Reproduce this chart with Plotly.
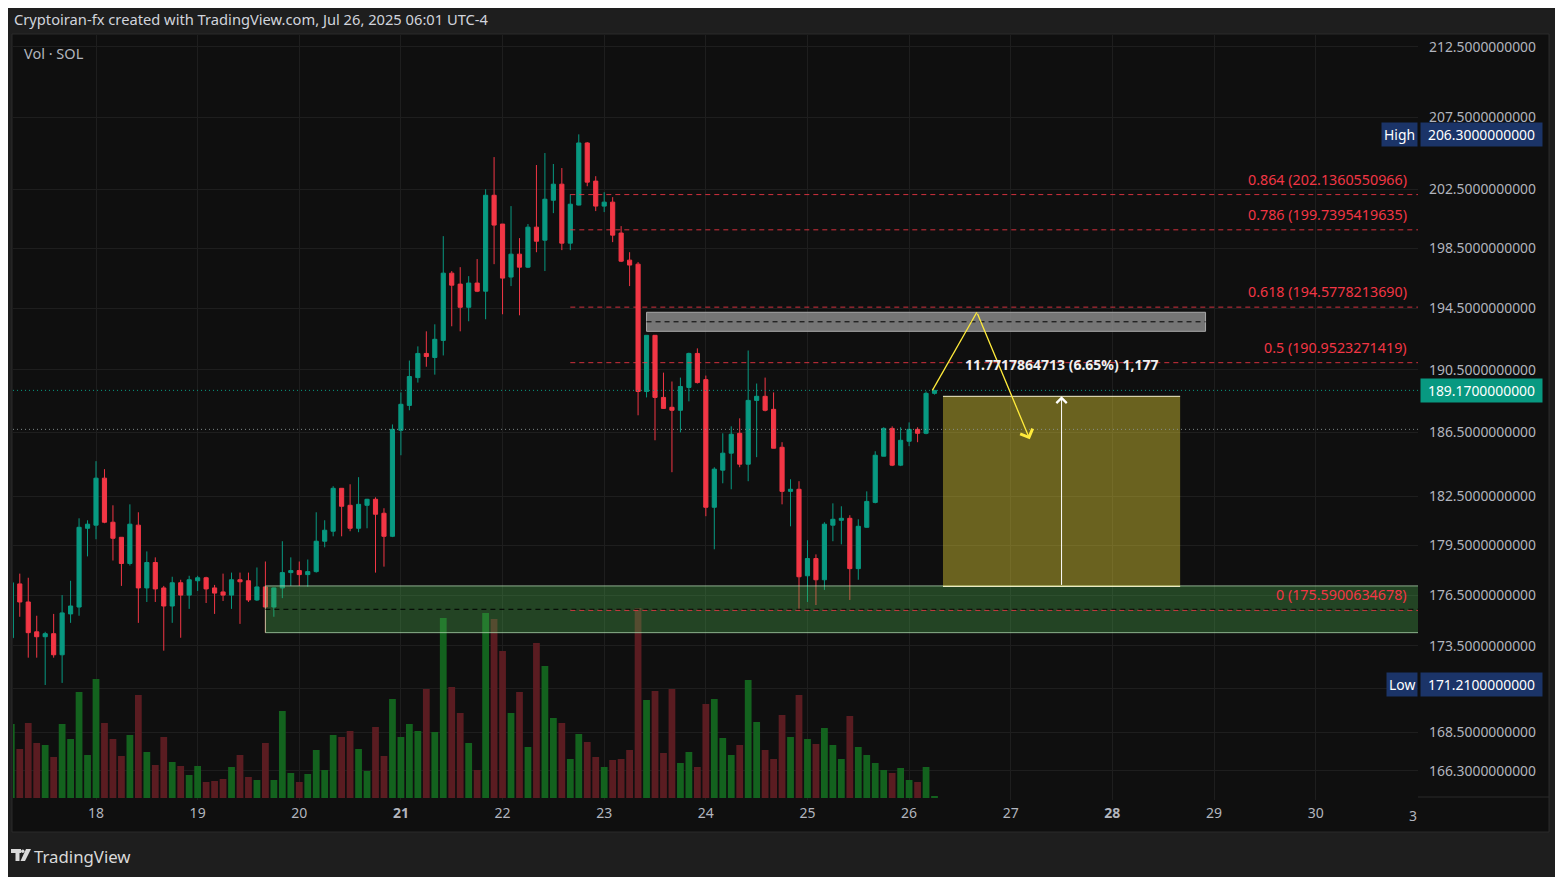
import math
import pandas as pd
import plotly.graph_objects as go

# 2h candles, SOL, Jul 17 04:00 -> Jul 26 06:00 (UTC-4)
start_time = "2025-07-17 04:00"

opens = [173.97, 177.17, 176.09, 174.32, 174.03, 174.21, 172.97, 175.38, 175.79, 180.54,
         180.73, 183.63, 180.91, 179.99, 178.40, 180.73, 176.93, 178.46, 176.93, 175.85,
         177.24, 176.50, 177.36, 177.54, 176.93, 176.69, 176.50, 177.42, 177.36, 176.21,
         176.99, 175.79, 176.93, 177.85, 177.97, 177.73, 177.91, 179.75, 180.36, 183.00,
         181.95, 180.54, 181.95, 182.32, 181.46, 180.05, 186.63, 188.21, 189.99, 191.55,
         191.29, 192.40, 196.83, 196.10, 194.57, 196.17, 195.63, 202.09, 200.13, 196.57,
         198.10, 197.23, 199.92, 199.04, 201.75, 202.85, 198.84, 201.42, 205.70, 203.06,
         201.35, 201.62, 199.52, 197.70, 197.43, 189.10, 192.73, 188.72, 188.09, 187.90,
         189.36, 191.55, 189.86, 181.83, 184.13, 185.19, 186.44, 184.50, 188.53, 188.79,
         187.96, 185.56, 182.81, 182.94, 177.66, 178.70, 177.42, 180.73, 181.03, 181.15,
         178.09, 180.60, 182.13, 185.00, 186.75, 184.44, 185.94, 186.69, 186.44, 188.98]
highs = [177.40, 177.79, 177.54, 175.27, 174.32, 175.38, 176.50, 177.36, 181.15, 181.03,
         184.69, 184.19, 181.95, 180.00, 182.01, 181.52, 179.13, 178.77, 177.05, 177.60,
         177.42, 177.66, 177.66, 177.60, 177.11, 177.79, 177.85, 177.85, 177.85, 178.16,
         178.52, 176.95, 179.75, 178.77, 178.52, 178.64, 181.52, 181.03, 183.13, 183.00,
         183.25, 183.69, 182.35, 182.44, 181.77, 187.00, 189.04, 191.09, 192.01, 192.99,
         193.45, 199.31, 196.97, 197.23, 196.63, 197.77, 202.50, 204.72, 200.13, 201.35,
         199.18, 200.13, 204.17, 205.00, 204.24, 203.96, 202.16, 206.30, 205.76, 203.40,
         202.30, 201.96, 199.99, 198.23, 197.57, 192.73, 192.73, 190.31, 189.74, 189.99,
         191.60, 191.88, 190.12, 184.31, 186.44, 186.88, 187.39, 191.74, 189.61, 189.99,
         189.04, 185.88, 183.56, 183.44, 179.81, 178.95, 180.91, 182.07, 181.89, 181.34,
         181.09, 182.81, 185.31, 186.82, 186.88, 186.82, 187.13, 186.82, 189.10, 189.20]
lows = [173.56, 175.21, 172.80, 172.80, 171.21, 172.80, 171.33, 174.85, 175.27, 178.83,
        179.87, 180.85, 178.58, 177.05, 178.28, 174.85, 176.09, 176.09, 173.21, 174.85,
        173.97, 175.68, 176.75, 176.03, 175.38, 176.15, 175.68, 174.79, 176.09, 176.15,
        174.27, 175.21, 176.32, 177.05, 177.05, 176.99, 177.85, 179.38, 180.05, 180.05,
        180.36, 180.30, 180.54, 177.85, 178.21, 180.00, 185.06, 187.90, 189.67, 190.69,
        190.18, 191.42, 193.32, 192.99, 193.65, 195.57, 193.78, 197.43, 194.11, 195.97,
        194.04, 197.17, 198.23, 196.97, 200.87, 198.37, 198.37, 201.40, 202.71, 201.01,
        200.94, 198.91, 197.57, 195.97, 187.58, 188.72, 186.00, 188.00, 184.00, 186.50,
        188.47, 189.61, 181.28, 179.26, 183.31, 182.94, 184.31, 183.44, 184.94, 187.83,
        185.50, 182.01, 180.66, 175.59, 176.09, 175.91, 176.81, 179.75, 179.56, 176.21,
        177.42, 180.58, 182.07, 185.00, 184.38, 184.38, 185.63, 185.88, 186.38, 188.90]
closes = [177.24, 176.09, 174.27, 174.03, 174.21, 172.97, 175.44, 175.85, 180.60, 180.79,
          183.63, 180.91, 179.93, 178.40, 180.79, 176.93, 178.46, 176.87, 175.85, 177.24,
          176.50, 177.42, 177.54, 176.87, 176.62, 176.50, 177.42, 177.30, 176.21, 176.99,
          175.79, 176.93, 177.85, 177.97, 177.73, 177.91, 179.75, 180.42, 183.00, 181.89,
          180.54, 182.01, 182.32, 181.40, 180.05, 186.69, 188.28, 190.06, 191.55, 191.35,
          192.47, 196.83, 196.03, 194.57, 196.17, 195.63, 202.09, 200.06, 196.50, 198.10,
          197.23, 199.92, 198.97, 201.82, 202.85, 198.84, 201.48, 205.70, 202.99, 201.35,
          201.62, 199.38, 197.63, 197.37, 189.10, 192.73, 188.72, 188.02, 187.90, 189.42,
          191.55, 189.67, 181.83, 184.19, 185.19, 186.38, 184.50, 188.53, 188.79, 187.90,
          185.50, 182.81, 182.94, 177.60, 178.70, 177.42, 180.79, 181.09, 181.15, 178.09,
          180.66, 182.19, 185.06, 186.75, 184.44, 186.00, 186.69, 186.44, 188.98, 189.17]
# relative volume (no scale shown on the chart)
volumes = [74, 49, 75, 55, 53, 41, 74, 59, 106, 43,
           119, 75, 59, 42, 63, 103, 46, 33, 61, 36,
           32, 23, 32, 16, 17, 19, 31, 43, 21, 18,
           55, 18, 87, 25, 16, 24, 48, 28, 63, 61,
           67, 49, 27, 71, 42, 99, 61, 74, 67, 109,
           66, 180, 111, 85, 55, 28, 185, 179, 147, 85,
           106, 51, 155, 132, 80, 75, 39, 64, 56, 41,
           31, 38, 39, 48, 190, 98, 107, 45, 109, 35,
           46, 31, 94, 99, 60, 43, 53, 118, 76, 48,
           39, 83, 61, 103, 59, 54, 70, 53, 39, 82,
           51, 43, 35, 28, 25, 30, 18, 16, 31, 2]

y_ticks = [212.5, 207.5, 202.5, 198.5, 194.5, 190.5, 186.5, 182.5, 179.5, 176.5, 173.5, 171.0, 168.5, 166.3]
day_labels = ["18", "19", "20", "<b>21</b>", "22", "23", "24", "25", "26", "27", "<b>28</b>", "29", "30"]

fib_ratios = ["0.864", "0.786", "0.618", "0.5", "0"]
fib_prices = [202.1360550966, 199.7395419635, 194.5778213690, 190.9523271419, 175.5900634678]

last_price = 189.17
prev_level = 186.69
high_price = 206.30
low_price = 171.21
range_low, range_high = 177.02, 188.79
range_text = "11.7717864713 (6.65%) 1,177"

times = pd.date_range(start_time, periods=len(opens), freq="2h")
day_ticks = pd.date_range("2025-07-18", periods=len(day_labels), freq="D")

BG = "#0f0f0f"
PAGE = "#1e1e1e"
GRID = "#1e1e1e"
TXT = "#b2b5be"
UP, DOWN = "#089981", "#f23645"
FONT = "Noto Sans"

# the page puts the figure 8px in from the window corner
OFF = 8
W, H = 1563 - OFF, 877 - OFF
# plot area in window pixels
L, R, T, B = 13, 1418, 35, 800


def px_x(px):
    return (px - L) / (R - L)


def px_y(py):
    return (B - py) / (B - T)


x_start, x_end = "2025-07-17 04:24", "2025-07-31 00:10"

fig = go.Figure()

vol_colors = ["#13621e" if c >= o else "#5a1c21" for o, c in zip(opens, closes)]
fig.add_trace(go.Bar(x=times, y=volumes, marker_color=vol_colors, marker_line_width=0,
                     width=2 * 3600 * 1000 * 0.8, yaxis="y2", hoverinfo="skip"))

fig.add_trace(go.Candlestick(
    x=times, open=opens, high=highs, low=lows, close=closes,
    increasing=dict(line=dict(color=UP, width=1), fillcolor=UP),
    decreasing=dict(line=dict(color=DOWN, width=1), fillcolor=DOWN),
    whiskerwidth=0, hoverinfo="skip"))

shapes = []
# chart frame
shapes.append(dict(type="rect", xref="paper", yref="paper", x0=px_x(12), x1=px_x(1549),
                   y0=px_y(832), y1=px_y(34), fillcolor=BG, line=dict(color="#2a2a2a", width=1),
                   layer="below"))
shapes.append(dict(type="line", xref="paper", yref="paper", x0=px_x(1418), x1=px_x(1549),
                   y0=px_y(797), y1=px_y(797), line=dict(color="#2a2a2a", width=1)))

# support zone
zone_start = "2025-07-19 16:00"
zone_lo, zone_hi = 174.27, 177.05
shapes.append(dict(type="rect", x0=zone_start, x1="2025-07-31 12:00", y0=zone_lo, y1=zone_hi,
                   fillcolor="rgba(76,175,80,0.33)", line=dict(color="rgba(180,220,180,0.75)", width=1)))
shapes.append(dict(type="line", x0=zone_start, x1="2025-07-31 12:00",
                   y0=math.sqrt(zone_lo * zone_hi), y1=math.sqrt(zone_lo * zone_hi),
                   line=dict(color="#000000", width=1, dash="5px,4px")))

# fib levels
for p in fib_prices:
    shapes.append(dict(type="line", x0="2025-07-22 16:00", x1="2025-07-31 12:00", y0=p, y1=p,
                       line=dict(color="rgba(242,54,69,0.85)", width=1, dash="5px,4px")))

# resistance box
box_lo, box_hi = 192.99, 194.24
shapes.append(dict(type="rect", x0="2025-07-23 10:00", x1="2025-07-28 22:00", y0=box_lo, y1=box_hi,
                   fillcolor="rgba(140,140,140,0.82)", line=dict(color="#a8a8a8", width=1)))
shapes.append(dict(type="line", x0="2025-07-23 10:00", x1="2025-07-28 22:00",
                   y0=math.sqrt(box_lo * box_hi), y1=math.sqrt(box_lo * box_hi),
                   line=dict(color="#000000", width=1, dash="5px,4px")))

# price range
shapes.append(dict(type="rect", x0="2025-07-26 08:00", x1="2025-07-28 16:00", y0=range_low, y1=range_high,
                   fillcolor="rgba(255,235,59,0.38)", line=dict(width=0)))
for p in (range_low, range_high):
    shapes.append(dict(type="line", x0="2025-07-26 08:00", x1="2025-07-28 16:00", y0=p, y1=p,
                       line=dict(color="rgba(255,250,215,0.95)", width=1)))

# last price / previous level dotted lines
shapes.append(dict(type="line", x0=x_start, x1=x_end, y0=last_price, y1=last_price,
                   line=dict(color=UP, width=1, dash="1px,3px")))
shapes.append(dict(type="line", x0=x_start, x1=x_end, y0=prev_level, y1=prev_level,
                   line=dict(color="rgba(140,150,150,0.9)", width=1, dash="1px,3px")))

# projected path, first leg
peak_t, peak_p = "2025-07-26 16:00", 194.24
shapes.append(dict(type="line", x0="2025-07-26 05:30", x1=peak_t, y0=last_price, y1=peak_p,
                   line=dict(color="#ffeb3b", width=1.3)))


# TradingView logo mark
def poly(points):
    return "M " + " L ".join(f"{px_x(a)},{px_y(b)}" for a, b in points) + " Z"


shapes.append(dict(type="path", xref="paper", yref="paper", line=dict(width=0), fillcolor="#d9d9d9",
                   path=poly([(11, 849), (21, 849), (21, 853), (19.5, 853), (19.5, 861), (15.5, 861), (15.5, 853), (11, 853)])))
shapes.append(dict(type="circle", xref="paper", yref="paper", line=dict(width=0), fillcolor="#d9d9d9",
                   x0=px_x(21), x1=px_x(24.5), y0=px_y(853), y1=px_y(849.5)))
shapes.append(dict(type="path", xref="paper", yref="paper", line=dict(width=0), fillcolor="#d9d9d9",
                   path=poly([(26, 849), (31, 849), (25, 861), (20.5, 861)])))

ann = []
ann.append(dict(xref="paper", yref="paper", x=px_x(12), y=px_y(19), xanchor="left", yanchor="middle",
                text="Cryptoiran-fx created with TradingView.com, Jul 26, 2025 06:01 UTC-4",
                showarrow=False, font=dict(size=14.7, color="#d1d4dc")))
ann.append(dict(xref="paper", yref="paper", x=px_x(22), y=px_y(53), xanchor="left", yanchor="middle",
                text="Vol · SOL", showarrow=False, font=dict(size=14.5, color=TXT)))
ann.append(dict(xref="paper", yref="paper", x=px_x(32), y=px_y(856), xanchor="left", yanchor="middle",
                text="TradingView", showarrow=False, font=dict(size=16.8, color="#d9d9d9")))
ann.append(dict(xref="paper", yref="paper", x=px_x(1413), y=px_y(815), xanchor="center", yanchor="middle",
                text="3", showarrow=False, font=dict(size=14, color=TXT)))

for r, p in zip(fib_ratios, fib_prices):
    ann.append(dict(xref="paper", yref="y", x=px_x(1409), y=math.log10(p), xanchor="right", yanchor="bottom",
                    yshift=4, text=f"{r} ({p:.10f})", showarrow=False,
                    font=dict(size=14.3, color="#f23645")))

# projected path, second leg with arrow
ann.append(dict(xref="x", yref="y", axref="x", ayref="y", x="2025-07-27 04:30", y=math.log10(186.06),
                ax=peak_t, ay=math.log10(peak_p), text="", showarrow=True, arrowhead=4,
                arrowsize=2, arrowwidth=1.3, arrowcolor="#ffeb3b", standoff=0, startstandoff=0))
# price range arrow and label
ann.append(dict(xref="x", yref="y", axref="x", ayref="y", x="2025-07-27 12:00", y=math.log10(range_high),
                ax="2025-07-27 12:00", ay=math.log10(range_low), text="", showarrow=True, arrowhead=4,
                arrowsize=2, arrowwidth=1, arrowcolor="#ffffff", standoff=0, startstandoff=0))
ann.append(dict(xref="x", yref="y", x="2025-07-27 12:00", y=math.log10(range_high), yanchor="bottom",
                yshift=20, text=f"<b>{range_text}</b>", showarrow=False, font=dict(size=14, color="#f0f0f0")))


# price axis badges
def badge(price, text, color, tag=None):
    ann.append(dict(xref="paper", yref="y", x=px_x(1420), y=math.log10(price), xanchor="left", yanchor="middle",
                    text=text, showarrow=False, bgcolor=color, borderpad=2, width=117, align="center",
                    font=dict(size=13.9, color="#ffffff")))
    if tag:
        ann.append(dict(xref="paper", yref="y", x=px_x(1418), y=math.log10(price), xanchor="right",
                        yanchor="middle", text=tag, showarrow=False, bgcolor=color, borderpad=2,
                        font=dict(size=13.9, color="#ffffff")))


badge(high_price, f"{high_price:.10f}", "#1b3468", "High")
badge(low_price, f"{low_price:.10f}", "#1b3468", "Low")
badge(last_price, f"{last_price:.10f}", UP)

fig.update_layout(
    width=W, height=H,
    margin=dict(l=L - OFF, r=W - (R - OFF), t=T - OFF, b=H - (B - OFF)),
    paper_bgcolor=PAGE, plot_bgcolor=BG,
    font=dict(family=FONT, color=TXT),
    showlegend=False, hovermode=False,
    shapes=shapes, annotations=ann,
    xaxis=dict(type="date", range=[x_start, x_end], rangeslider=dict(visible=False),
               tickvals=day_ticks, ticktext=day_labels, showgrid=True, gridcolor=GRID,
               tickfont=dict(size=14, color=TXT), ticklabelstandoff=3, zeroline=False, showline=False),
    yaxis=dict(type="log", side="right", range=[math.log10(164.67), math.log10(213.36)],
               tickvals=y_ticks, ticktext=["" if v == 171.0 else f"{v:.10f}" for v in y_ticks],
               showgrid=True, gridcolor=GRID, tickfont=dict(size=13.9, color=TXT),
               ticklabelstandoff=10, zeroline=False, showline=False),
    yaxis2=dict(overlaying="y", range=[-2, 763], visible=False, fixedrange=True),
)

fig.write_html("out.html")
